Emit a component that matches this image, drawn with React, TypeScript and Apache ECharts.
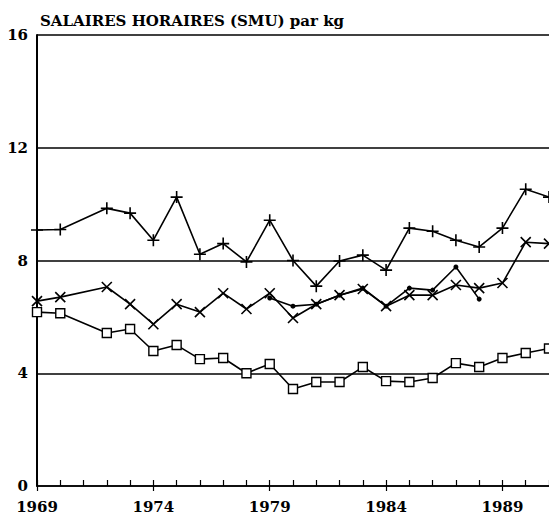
import React, { useEffect, useRef } from "react";
import * as echarts from "echarts";

const years = [
  "1969", "1970", "1971", "1972", "1973", "1974", "1975", "1976", "1977", "1978",
  "1979", "1980", "1981", "1982", "1983", "1984", "1985", "1986", "1987", "1988",
  "1989", "1990", "1991",
];

const plusSeries = [
  9.08, 9.1, null, 9.85, 9.68, 8.72, 10.25, 8.22, 8.6, 7.95,
  9.43, 8.0, 7.09, 7.98, 8.19, 7.66, 9.15, 9.04, 8.72, 8.48,
  9.15, 10.53, 10.25,
];

const crossSeries = [
  6.56, 6.7, null, 7.06, 6.45, 5.74, 6.45, 6.17, 6.84, 6.28,
  6.84, 5.96, 6.45, 6.77, 6.99, 6.38, 6.77, 6.77, 7.13, 7.02,
  7.2, 8.65, 8.6,
];

const squareSeries = [
  6.17, 6.13, null, 5.43, 5.57, 4.79, 5.0, 4.5, 4.54, 4.0,
  4.33, 3.44, 3.69, 3.69, 4.22, 3.72, 3.69, 3.83, 4.36, 4.22,
  4.54, 4.72, 4.88,
];

const dotSeries = [
  null, null, null, null, null, null, null, null, null, null,
  6.67, 6.38, 6.45, 6.77, 7.02, 6.38, 7.02, 6.95, 7.77, 6.63,
  null, null, null,
];

const yTicks = [0, 4, 8, 12, 16];

const titleText = "SALAIRES HORAIRES (SMU) par kg";

const FONT = "'DejaVu Serif', 'Liberation Serif', serif";

export default function App() {
  const ref = useRef<HTMLDivElement>(null);

  useEffect(() => {
    if (!ref.current) return;
    const chart = echarts.init(ref.current, null, { renderer: "svg" });
    const lineStyle = { color: "#000", width: 1.6 };
    const option: any = {
      animation: false,
      backgroundColor: "#fff",
      title: {
        text: titleText,
        left: 35,
        top: 8,
        textStyle: { fontFamily: FONT, fontWeight: "bold", fontSize: 15, color: "#000" },
      },
      grid: { left: 37, right: -4, top: 35, bottom: 30, containLabel: false },
      xAxis: [
        {
          type: "category",
          data: years,
          boundaryGap: false,
          axisLine: { lineStyle: { color: "#000", width: 1.5 } },
          axisTick: { show: true, inside: true, length: 6, interval: 0, lineStyle: { color: "#000", width: 1.2 } },
          axisLabel: {
            interval: 4,
            color: "#000",
            fontFamily: FONT,
            fontWeight: "bold",
            fontSize: 15,
            margin: 13,
          },
          splitLine: { show: false },
        },
        {
          type: "category",
          data: years,
          boundaryGap: false,
          position: "bottom",
          axisLine: { show: false },
          axisTick: { show: true, inside: false, length: 5, interval: 4, lineStyle: { color: "#000", width: 1.2 } },
          axisLabel: { show: false },
          splitLine: { show: false },
        },
      ],
      yAxis: {
        type: "value",
        min: 0,
        max: 16,
        interval: 4,
        axisLine: { show: true, lineStyle: { color: "#000", width: 2 } },
        axisTick: { show: false },
        axisLabel: {
          color: "#000",
          fontFamily: FONT,
          fontWeight: "bold",
          fontSize: 15,
          margin: 9,
          formatter: (v: number) => (yTicks.includes(v) ? String(v) : ""),
        },
        splitLine: { show: true, lineStyle: { color: "#000", width: 1.5 } },
      },
      series: [
        {
          type: "line",
          data: plusSeries,
          connectNulls: true,
          symbol: "path://M5 0L5 10M0 5L10 5",
          symbolSize: 12,
          itemStyle: { color: "#fff", borderColor: "#000", borderWidth: 1.6 },
          lineStyle,
        },
        {
          type: "line",
          data: crossSeries,
          connectNulls: true,
          symbol: "path://M0 0L10 10M10 0L0 10",
          symbolSize: 10,
          itemStyle: { color: "#fff", borderColor: "#000", borderWidth: 1.6 },
          lineStyle,
        },
        {
          type: "line",
          data: squareSeries,
          connectNulls: true,
          symbol: "rect",
          symbolSize: 9,
          itemStyle: { color: "#fff", borderColor: "#000", borderWidth: 1.4 },
          lineStyle,
        },
        {
          type: "line",
          data: dotSeries,
          connectNulls: false,
          symbol: "circle",
          symbolSize: 5,
          itemStyle: { color: "#000", borderColor: "#000", borderWidth: 0 },
          lineStyle,
        },
      ],
    };
    chart.setOption(option);
    return () => chart.dispose();
  }, []);

  return (
    <div
      ref={ref}
      style={{ position: "fixed", left: 0, top: 0, width: 549, height: 516, background: "#fff" }}
    />
  );
}
